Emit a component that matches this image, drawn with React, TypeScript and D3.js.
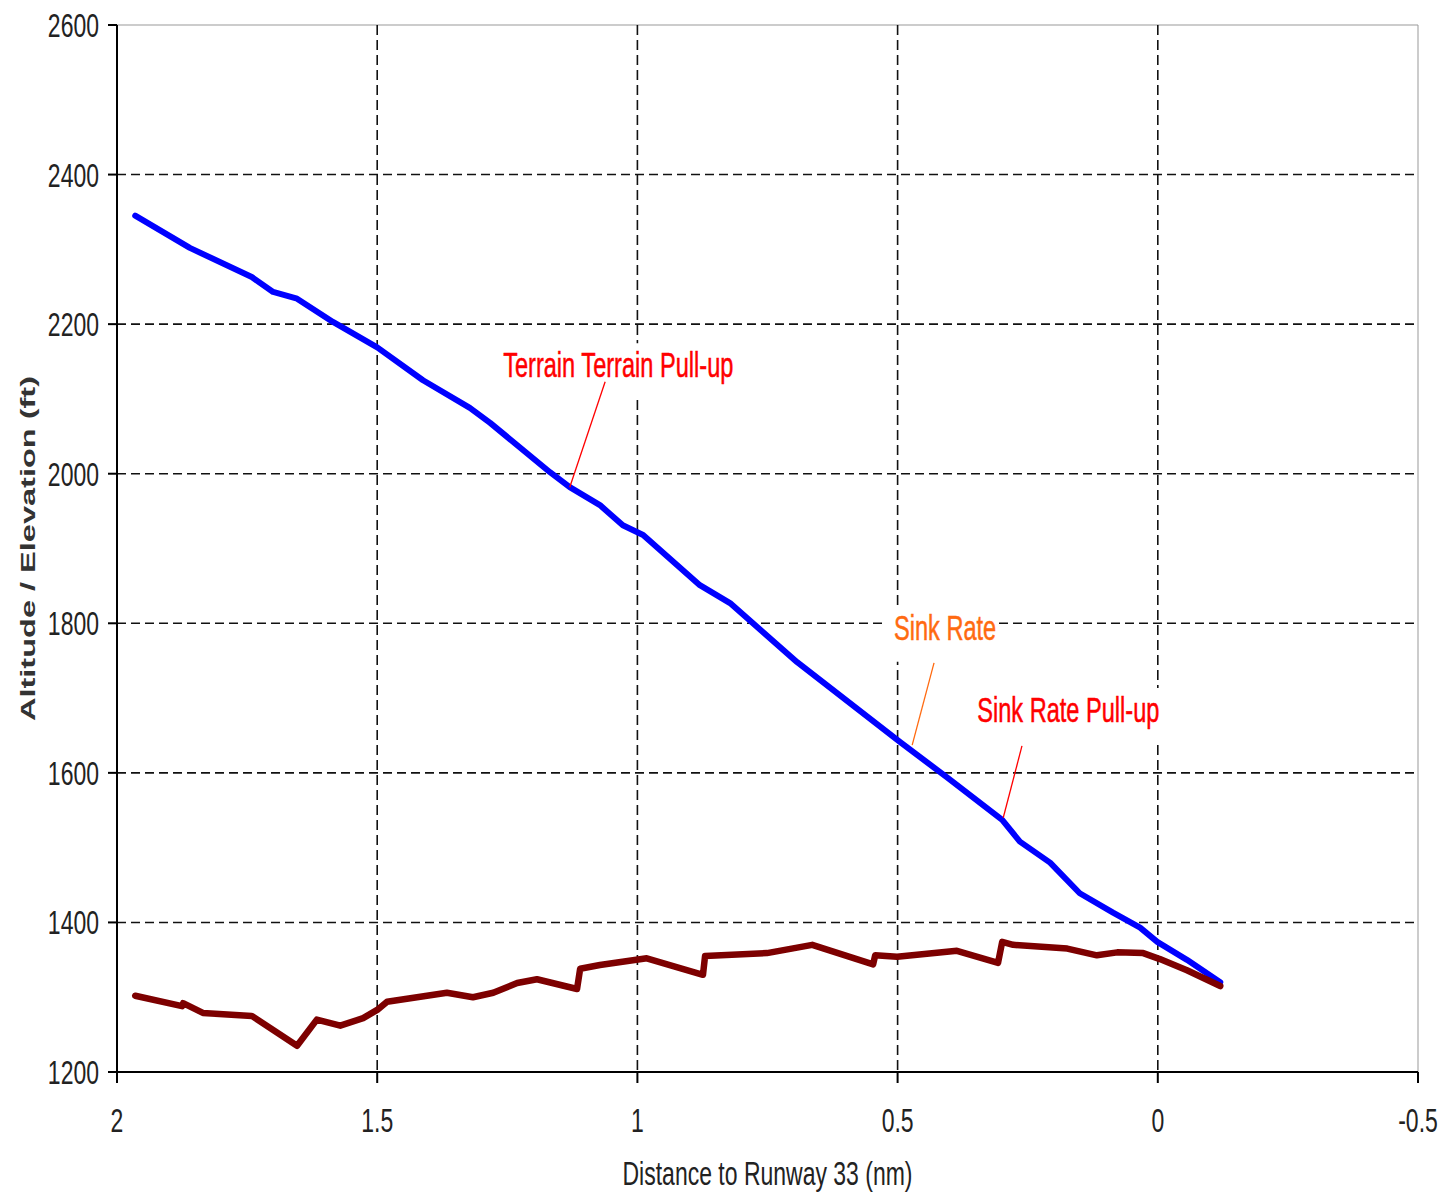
import React from 'react';
import * as d3 from 'd3';

// aircraft track (blue)
const flightDist = [1.965, 1.86, 1.741, 1.7, 1.654, 1.585, 1.5, 1.412, 1.322, 1.283, 1.168, 1.13, 1.072, 1.028, 0.989, 0.88, 0.822, 0.693, 0.495, 0.405, 0.299, 0.265, 0.207, 0.15, 0.086, 0.034, 0.001, -0.056, -0.12];
const flightAlt = [2345, 2302, 2263, 2243, 2234, 2203, 2169, 2125, 2088, 2068, 2002, 1982, 1958, 1931, 1918, 1851, 1827, 1748, 1641, 1594, 1537, 1508, 1480, 1439, 1413, 1393, 1374, 1350, 1320];

// terrain profile (dark red)
const terrainDist = [1.965, 1.875, 1.873, 1.835, 1.741, 1.654, 1.616, 1.571, 1.527, 1.5, 1.481, 1.366, 1.316, 1.277, 1.231, 1.193, 1.116, 1.11, 1.072, 0.982, 0.874, 0.87, 0.751, 0.664, 0.547, 0.543, 0.501, 0.386, 0.307, 0.299, 0.278, 0.174, 0.117, 0.078, 0.028, -0.004, -0.056, -0.12];
const terrainElev = [1302, 1288, 1292, 1279, 1275, 1235, 1270, 1262, 1272, 1283, 1294, 1306, 1300, 1306, 1319, 1324, 1311, 1338, 1343, 1352, 1330, 1355, 1359, 1370, 1344, 1356, 1354, 1362, 1346, 1374, 1370, 1365, 1356, 1360, 1359, 1351, 1336, 1315];

const xTicks = [2, 1.5, 1, 0.5, 0, -0.5];
const xTickLabels = ['2', '1.5', '1', '0.5', '0', '-0.5'];
const yTicks = [1200, 1400, 1600, 1800, 2000, 2200, 2400, 2600];

// warnings: label position, leader start, point on track
const alertText = ['Terrain Terrain Pull-up', 'Sink Rate', 'Sink Rate Pull-up'];
const alertColor = ['#ff0000', '#ff6a10', '#ff0000'];
const alertLabelDist = [1.258, 0.507, 0.347];
const alertLabelAlt = [2129, 1778, 1668];
const alertFromDist = [1.062, 0.43, 0.261];
const alertFromAlt = [2123, 1747, 1636];
const alertToDist = [1.13, 0.472, 0.297];
const alertToAlt = [1982, 1637, 1540];

const W = 1441;
const H = 1196;
const margin = { left: 117, right: 23, top: 25, bottom: 124 };
const SY = 1.45; // source image is stretched vertically
const FONT = '"Liberation Sans", Arial, sans-serif';

export default function App() {
  const x = d3.scaleLinear().domain([2, -0.5]).range([margin.left, W - margin.right]);
  const y = d3.scaleLinear().domain([1200, 2600]).range([H - margin.bottom, margin.top]);
  const x0 = x(2), x1 = x(-0.5), y0 = y(1200), y1 = y(2600);

  const line = d3.line<[number, number]>().x(d => x(d[0])).y(d => y(d[1]));
  const flight = line(flightDist.map((d, i) => [d, flightAlt[i]]));
  const terrain = line(terrainDist.map((d, i) => [d, terrainElev[i]]));

  const sText = (tx: number, ty: number) => `translate(${tx},${ty}) scale(1,${SY})`;

  return (
    <svg width={W} height={H} style={{ position: 'absolute', left: 0, top: 0, background: '#fff' }}>
      {/* frame */}
      <line x1={x0} x2={x1} y1={y1} y2={y1} stroke="#999" strokeWidth={1} />
      <line x1={x1} x2={x1} y1={y1} y2={y0} stroke="#999" strokeWidth={1} />

      {/* grid */}
      {yTicks.filter(t => t > 1200 && t < 2600).map(t => (
        <line key={'gy' + t} x1={x0} x2={x1} y1={y(t)} y2={y(t)} stroke="#111" strokeWidth={1.6} strokeDasharray="9,5" />
      ))}
      {xTicks.filter(t => t < 2 && t > -0.5).map(t => (
        <line key={'gx' + t} x1={x(t)} x2={x(t)} y1={y1} y2={y0} stroke="#111" strokeWidth={1.6} strokeDasharray="10,5" />
      ))}

      {/* label boxes hide the grid */}
      {alertText.map((s, i) => {
        const lx = x(alertLabelDist[i]);
        const ly = y(alertLabelAlt[i]);
        const w = s.length * 10.4 + 20;
        return <rect key={'bx' + i} x={lx - 9} y={ly - 34} width={w} height={56} fill="#fff" />;
      })}

      {/* axes */}
      <line x1={x0} x2={x0} y1={y1} y2={y0 + 1} stroke="#000" strokeWidth={2} />
      <line x1={x0 - 9} x2={x1} y1={y0} y2={y0} stroke="#000" strokeWidth={2} />
      {yTicks.map(t => (
        <g key={'ty' + t}>
          <line x1={x0 - 9} x2={x0} y1={y(t)} y2={y(t)} stroke="#000" strokeWidth={2} />
          <text transform={sText(99, y(t) + 12)} textAnchor="end" fontFamily={FONT} fontSize={23} fill="#222">{t}</text>
        </g>
      ))}
      {xTicks.map((t, i) => (
        <g key={'tx' + t}>
          <line x1={x(t)} x2={x(t)} y1={y0} y2={y0 + 11} stroke="#000" strokeWidth={2} />
          <text transform={sText(x(t), 1132)} textAnchor="middle" fontFamily={FONT} fontSize={23} fill="#222">{xTickLabels[i]}</text>
        </g>
      ))}

      {/* series */}
      <path d={flight || ''} fill="none" stroke="#0000ff" strokeWidth={6} strokeLinejoin="round" strokeLinecap="round" />
      <path d={terrain || ''} fill="none" stroke="#7d0000" strokeWidth={6.5} strokeLinejoin="round" strokeLinecap="round" />

      {/* alerts */}
      {alertText.map((s, i) => (
        <g key={'al' + i}>
          <line x1={x(alertFromDist[i])} y1={y(alertFromAlt[i])} x2={x(alertToDist[i])} y2={y(alertToAlt[i])} stroke={alertColor[i]} strokeWidth={1.3} />
          <text transform={sText(x(alertLabelDist[i]), y(alertLabelAlt[i]))} fontFamily={FONT} fontSize={23.6} fill={alertColor[i]} stroke={alertColor[i]} strokeWidth={0.35}>{s}</text>
        </g>
      ))}

      {/* titles */}
      <text transform={sText((x0 + x1) / 2, 1185)} textAnchor="middle" fontFamily={FONT} fontSize={23} fill="#222">Distance to Runway 33 (nm)</text>
      <text transform={`translate(35,${(y0 + y1) / 2}) rotate(-90)`} textAnchor="middle" fontFamily={FONT} fontSize={20} fontWeight="bold" fill="#333" textLength={345} lengthAdjust="spacingAndGlyphs">Altitude / Elevation (ft)</text>
    </svg>
  );
}
